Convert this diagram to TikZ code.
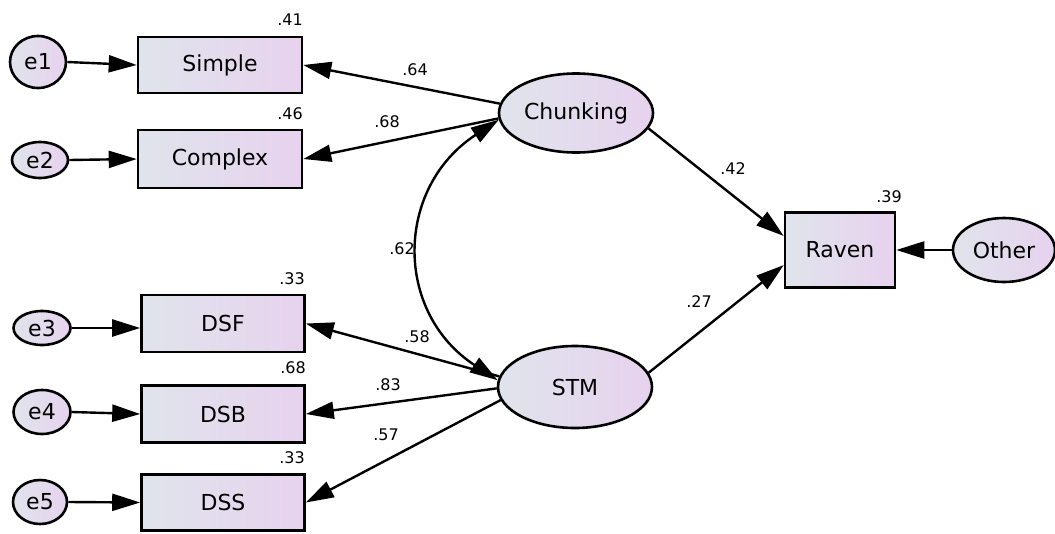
\documentclass[tikz,border=0pt]{standalone}
\usepackage{fontspec}
\setmainfont{DejaVu Sans}
\usetikzlibrary{shapes.geometric,arrows.meta}
\definecolor{gl}{RGB}{224,228,236}
\definecolor{gr}{RGB}{231,210,238}
\begin{document}
\begin{tikzpicture}[x=1pt,y=-1pt,
  obs/.style={draw,line width=2.6pt,left color=gl,right color=gr,inner sep=0,
    font=\fontsize{22}{25}\selectfont},
  lat/.style={ellipse,draw,line width=2.6pt,left color=gl,right color=gr,inner sep=0,
    font=\fontsize{22}{25}\selectfont},
  lab/.style={inner sep=0,font=\fontsize{16}{18}\selectfont},
  path/.style={line width=2.4pt,-{Triangle[length=28pt,width=17pt]}},
  cov/.style={line width=2.4pt,{Triangle[length=28pt,width=17pt]}-{Triangle[length=28pt,width=17pt]}}]
\useasboundingbox (0,0) rectangle (1055,533);
% error terms
\node[lat,minimum width=56pt,minimum height=52pt] (e1) at (38,62) {e1};
\node[lat,minimum width=56pt,minimum height=36pt] (e2) at (40,160) {e2};
\node[lat,minimum width=57pt,minimum height=34pt] (e3) at (42,328) {e3};
\node[lat,minimum width=57pt,minimum height=44pt] (e4) at (42,412) {e4};
\node[lat,minimum width=54pt,minimum height=44pt] (e5) at (40,502) {e5};
% observed
\node[obs,minimum width=164pt,minimum height=56pt] (simple) at (220,65) {Simple};
\node[obs,minimum width=164pt,minimum height=58pt] (complex) at (220,159) {Complex};
\node[obs,minimum width=163pt,minimum height=57pt] (dsf) at (223,323.5) {DSF};
\node[obs,minimum width=163pt,minimum height=57pt] (dsb) at (223,414) {DSB};
\node[obs,minimum width=163pt,minimum height=56pt] (dss) at (223,502.5) {DSS};
\node[obs,minimum width=110pt,minimum height=75pt] (raven) at (840,250) {Raven};
% latent
\node[lat,minimum width=154pt,minimum height=79pt] (chunk) at (576,113) {Chunking};
\node[lat,minimum width=154pt,minimum height=82pt] (stm) at (575,387) {STM};
\node[lat,minimum width=102pt,minimum height=64pt] (other) at (1004,250) {Other};
% R-squared labels
\node[lab] (r1) at (290,20) {.41};
\node[lab] (r2) at (290,114) {.46};
\node[lab] (r3) at (292,279) {.33};
\node[lab] (r4) at (293,368) {.68};
\node[lab] (r5) at (292,458) {.33};
\node[lab] (r6) at (889,197) {.39};
% error paths
\draw[path] (e1.east) -- (simple.west);
\draw[path] (e2.east) -- (complex.west);
\draw[path] (e3) -- (e3 -| dsf.west);
\draw[path] (e4.east) -- (dsb.west);
\draw[path] (e5.east) -- (dss.west);
\draw[path] (other.west) -- (raven.east);
% loadings
\draw[path] (chunk.173) -- (simple.east);
\draw[path] (chunk.184) -- (complex.east);
\draw[path] (stm.172) -- (dsf.east);
\draw[path] (stm.181) -- (dsb.east);
\draw[path] (stm.190) -- (dss.east);
\draw[path] (chunk.-12) -- (raven.166);
\draw[path] (stm.11) -- (raven.195);
\draw[cov] (chunk.185) .. controls +(-104,68) and +(-104,-68) .. (stm.175);
% path labels
\node[lab] (l1) at (415,70) {.64};
\node[lab] (l2) at (387,122) {.68};
\node[lab] (l3) at (402,249) {.62};
\node[lab] (l4) at (417,337) {.58};
\node[lab] (l5) at (388,385) {.83};
\node[lab] (l6) at (386,435) {.57};
\node[lab] (l7) at (733,169) {.42};
\node[lab] (l8) at (699,302) {.27};
\end{tikzpicture}
\end{document}
